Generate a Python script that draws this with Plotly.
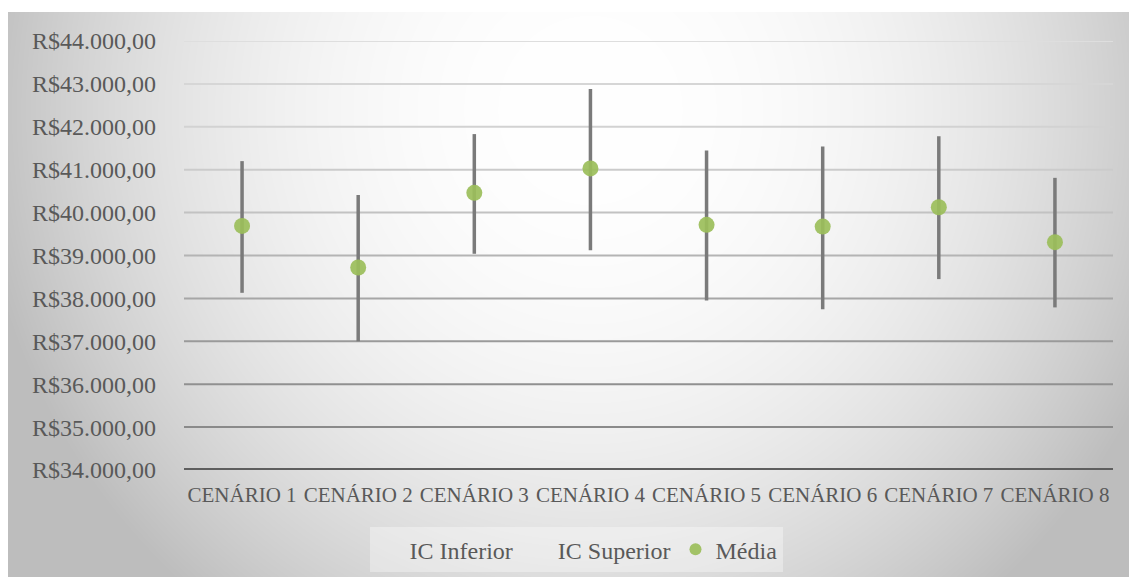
import base64
import struct
import zlib

import numpy as np
import plotly.graph_objects as go

# ---- data -------------------------------------------------------------
cenarios = ["CENÁRIO 1", "CENÁRIO 2", "CENÁRIO 3", "CENÁRIO 4",
            "CENÁRIO 5", "CENÁRIO 6", "CENÁRIO 7", "CENÁRIO 8"]
ic_inferior = [38130, 37000, 39040, 39120, 37950, 37750, 38450, 37790]
ic_superior = [41200, 40410, 41830, 42880, 41450, 41540, 41780, 40810]
media = [39690, 38720, 40460, 41030, 39715, 39675, 40125, 39310]

y_ticks = list(range(34000, 44001, 1000))


def brl(v):
    s = f"{v:,.2f}".replace(",", "X").replace(".", ",").replace("X", ".")
    return "R$" + s


y_ticktext = [brl(v) for v in y_ticks]

# ---- canvas geometry ---------------------------------------------------
W, H = 1129, 577
ML, MR, MT, MB = 184, 16, 41, 107
PW, PH = W - ML - MR, H - MT - MB
BG_X0, BG_Y0 = 8, 12          # gradient panel starts here
BG_PAD = 30                   # let the panel run past the canvas edge


def gray_png(arr):
    """Encode a 2-D uint8 array as a greyscale PNG data URI."""
    h, w = arr.shape
    raw = b"".join(b"\x00" + arr[i].tobytes() for i in range(h))

    def chunk(tag, data):
        c = struct.pack(">I", len(data)) + tag + data
        return c + struct.pack(">I", zlib.crc32(tag + data) & 0xFFFFFFFF)

    png = b"\x89PNG\r\n\x1a\n"
    png += chunk(b"IHDR", struct.pack(">IIBBBBB", w, h, 8, 0, 0, 0, 0))
    png += chunk(b"IDAT", zlib.compress(raw, 9))
    png += chunk(b"IEND", b"")
    return "data:image/png;base64," + base64.b64encode(png).decode()


# soft radial grey backdrop, light near the upper centre
bw, bh = W - BG_X0 + BG_PAD, H - BG_Y0 + BG_PAD
yy, xx = np.mgrid[0:bh, 0:bw].astype(float)
xx += BG_X0
yy += BG_Y0
d = np.sqrt(((xx - 590) / 545.0) ** 2 + ((yy - 110) / 560.0) ** 2)
drop = np.minimum(50.0 * d ** 2.2, 66.0)
bg = np.clip(255.0 - drop, 0, 255).astype(np.uint8)
bg_uri = gray_png(bg)

# ---- figure ------------------------------------------------------------
FONT = "Liberation Serif"
TXT = "#595959"

fig = go.Figure()

# high-low lines between the confidence bounds
lx, ly = [], []
for c, lo, hi in zip(cenarios, ic_inferior, ic_superior):
    lx += [c, c, None]
    ly += [lo, hi, None]
fig.add_trace(go.Scatter(x=lx, y=ly, mode="lines", showlegend=False,
                         line=dict(color="#7a7a7a", width=3.5),
                         hoverinfo="skip"))

fig.add_trace(go.Scatter(x=cenarios, y=ic_inferior, mode="markers",
                         name="IC Inferior",
                         marker=dict(color="rgba(0,0,0,0)", size=10)))
fig.add_trace(go.Scatter(x=cenarios, y=ic_superior, mode="markers",
                         name="IC Superior",
                         marker=dict(color="rgba(0,0,0,0)", size=10)))
fig.add_trace(go.Scatter(x=cenarios, y=media, mode="markers",
                         name="Média",
                         marker=dict(color="rgba(155,190,90,0.92)", size=16,
                                     line=dict(width=0))))

# white strips along the top and left edge of the canvas
shapes = [
    dict(type="rect", xref="paper", yref="paper", layer="below",
         x0=-ML / PW - 0.01, x1=1 + MR / PW + 0.01,
         y0=1 + (MT - BG_Y0) / PH, y1=1 + MT / PH + 0.01,
         fillcolor="white", line=dict(width=0)),
    dict(type="rect", xref="paper", yref="paper", layer="below",
         x0=-ML / PW - 0.01, x1=(BG_X0 - ML) / PW,
         y0=-MB / PH - 0.01, y1=1 + MT / PH + 0.01,
         fillcolor="white", line=dict(width=0)),
]

# horizontal gridlines, darkening towards the bottom of the panel
grid_cols = ["#dedede", "#d6d6d6", "#d2d2d2", "#cbcbcb", "#c2c2c2",
             "#b4b4b4", "#a6a6a6", "#9a9a9a", "#909090", "#8a8a8a"]
for v, col in zip(y_ticks[::-1][:-1], grid_cols):
    shapes.append(dict(type="line", xref="paper", yref="y", x0=0, x1=1,
                       y0=v, y1=v, layer="below",
                       line=dict(color=col, width=2)))
shapes.append(dict(type="line", xref="paper", yref="y", x0=0, x1=1,
                   y0=y_ticks[0], y1=y_ticks[0], layer="below",
                   line=dict(color="#5e5e5e", width=4)))

fig.update_layout(
    width=W, height=H,
    margin=dict(l=ML, r=MR, t=MT, b=MB, pad=0, autoexpand=False),
    paper_bgcolor="#c4c4c4",
    plot_bgcolor="rgba(0,0,0,0)",
    font=dict(family=FONT, color=TXT, size=24),
    shapes=shapes,
    images=[dict(source=bg_uri, xref="paper", yref="paper",
                 x=(BG_X0 - ML) / PW, y=(H - MB - BG_Y0) / PH,
                 sizex=bw / PW, sizey=bh / PH,
                 xanchor="left", yanchor="top", sizing="stretch",
                 layer="below")],
    xaxis=dict(type="category", categoryorder="array",
               categoryarray=cenarios, range=[-0.5, 7.5],
               showgrid=False, zeroline=False, showline=False,
               ticks="", ticklabelstandoff=10, automargin=False,
               tickfont=dict(family=FONT, size=21, color=TXT)),
    yaxis=dict(range=[34000, 44000], tickvals=y_ticks, ticktext=y_ticktext,
               showgrid=False, zeroline=False, showline=False, ticks="",
               ticklabelstandoff=27, automargin=False,
               tickfont=dict(family=FONT, size=24, color=TXT)),
    legend=dict(orientation="h", x=0.422, xanchor="center",
                y=-0.133, yanchor="top",
                bgcolor="rgba(255,255,255,0.35)",
                font=dict(family=FONT, size=24, color=TXT),
                itemsizing="constant"),
    showlegend=True,
)

fig.write_html("out.html")
